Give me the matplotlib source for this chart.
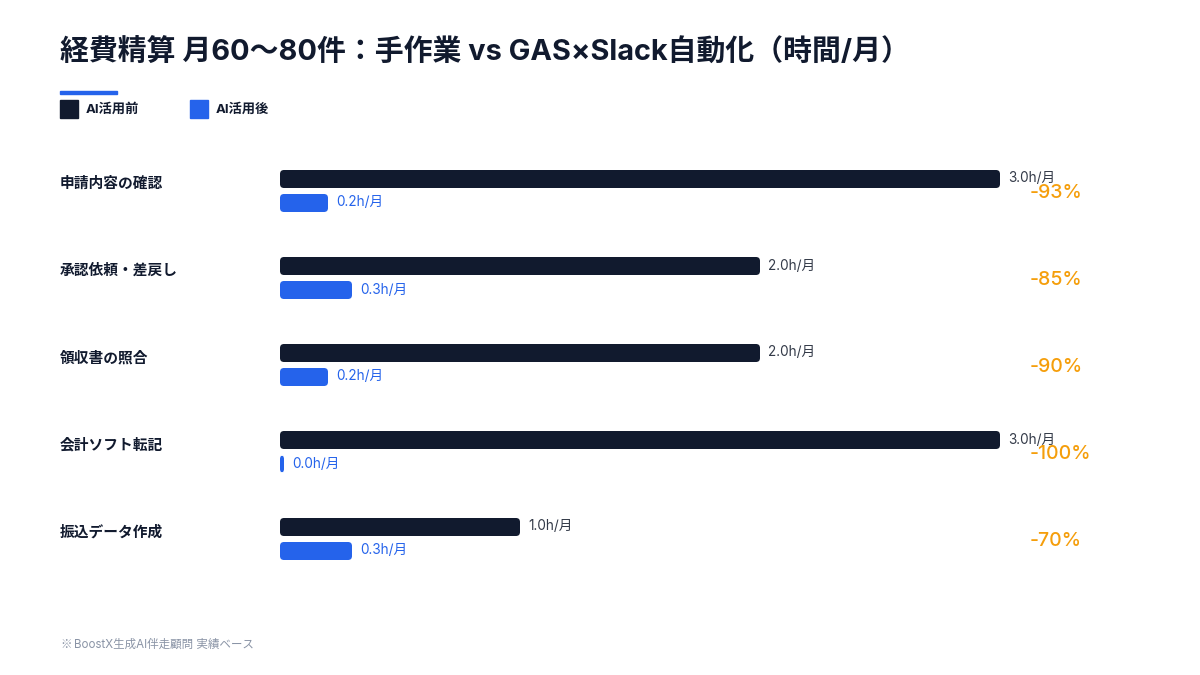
import matplotlib
matplotlib.use("Agg")
import matplotlib.pyplot as plt
from matplotlib.patches import FancyBboxPatch, Rectangle

plt.rcParams['font.family'] = ['Inter', 'Noto Sans CJK JP', 'DejaVu Sans']

title = "経費精算 月60〜80件：手作業 vs GAS×Slack自動化（時間/月）"
categories = ["申請内容の確認", "承認依頼・差戻し", "領収書の照合", "会計ソフト転記", "振込データ作成"]
before = [3.0, 2.0, 2.0, 3.0, 1.0]
after = [0.2, 0.3, 0.2, 0.0, 0.3]
reduction = ["-93%", "-85%", "-90%", "-100%", "-70%"]
legend_labels = ["AI活用前", "AI活用後"]
footer_mark = "※"
footer = "BoostX生成AI伴走顧問 実績ベース"

DARK = "#111a2e"
BLUE = "#2563eb"
ORANGE = "#f59e0b"
GRAY = "#8a94a6"

W, H = 1200, 675
fig = plt.figure(figsize=(12, 6.75), dpi=100)

def fx(px):
    return px / W

def fy(py):
    return 1 - py / H

# Title
fig.text(fx(60), fy(53), title, fontsize=20.8, fontweight='bold', color=DARK, va='center', ha='left')
# accent line
fig.patches.append(Rectangle((fx(60), fy(94)), fx(57), 3 / H, transform=fig.transFigure,
                             color=BLUE, figure=fig))
# legend
for x0, lab, col in [(60, legend_labels[0], DARK), (190, legend_labels[1], BLUE)]:
    fig.patches.append(Rectangle((fx(x0), fy(118)), fx(18), 18 / H, transform=fig.transFigure,
                                 color=col, figure=fig))
    fig.text(fx(x0 + 26), fy(109.5), lab, fontsize=9.5, fontweight='bold', color=DARK, va='center', ha='left')

# axes for bars: x 280..1000 px -> 0..3 h ; y rows 147.5..582.5 px
ax = fig.add_axes([fx(280), fy(582.5), fx(720), 435 / H])
ax.set_xlim(0, 3)
ax.set_ylim(len(categories) - 0.5, -0.5)
ax.axis('off')

px_x = 3 / 720.0
px_y = 1 / 87.0
off = 12 * px_y
bh = 18 * px_y
r = 4 * px_x
aspect = (4 * px_y) / r
minw = 4 * px_x

for i, (cat, b, a, red) in enumerate(zip(categories, before, after, reduction)):
    for val, yc, col, tcol in [(b, i - off, DARK, "#333a48"), (a, i + off, BLUE, BLUE)]:
        w = max(val, minw)
        p = FancyBboxPatch((0, yc - bh / 2), w, bh,
                           boxstyle=f"round,pad=0,rounding_size={r}",
                           mutation_aspect=aspect, facecolor=col, edgecolor='none')
        ax.add_patch(p)
        ax.text(w + 8 * px_x, yc - 0.5 * px_y, f"{val:.1f}h/月", fontsize=9.8, color=tcol,
                va='center', ha='left', clip_on=False)
    # category label
    ax.text(-220 * px_x, i - 7 * px_y, cat, fontsize=10.6, fontweight='bold', color=DARK,
            va='center', ha='left', clip_on=False)
    ax.text(750 * px_x, i + 2 * px_y, red, fontsize=14, fontweight='medium', color=ORANGE,
            va='center', ha='left', clip_on=False)

fig.text(fx(60), fy(645), footer_mark, fontsize=8.3, color=GRAY, va='center', ha='left',
         family=['Noto Sans CJK JP', 'DejaVu Sans'])
fig.text(fx(74), fy(645), footer, fontsize=8.3, color=GRAY, va='center', ha='left')

fig.savefig("out.png", dpi=100, facecolor='white')
